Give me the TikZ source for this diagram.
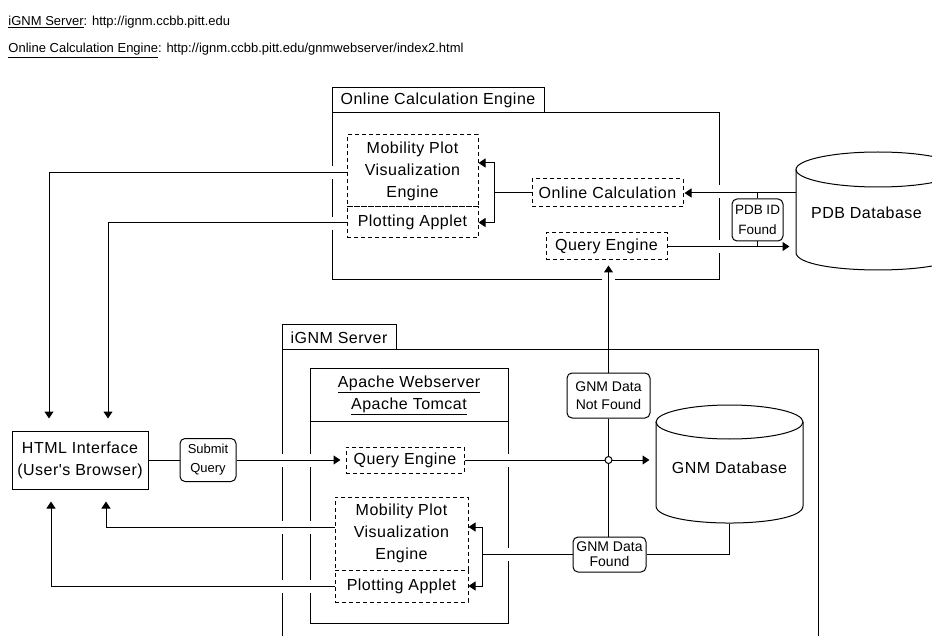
\documentclass[tikz,border=0pt]{standalone}
\usepackage{fontspec}
\setmainfont{Liberation Sans}
\newfontfamily\spacedfont[LetterSpace=3]{Liberation Sans}
\usetikzlibrary{arrows.meta,calc}
\begin{document}
\begin{tikzpicture}[x=1pt,y=-1pt, line width=1pt,
  arr/.style={-{Triangle[length=7pt,width=9pt]}},
  cbox/.style={draw, inner sep=0pt},
  txt/.style={font=\spacedfont\fontsize{16}{22}\selectfont, align=center},
  dbox/.style={draw, dash pattern=on 4pt off 3pt, inner sep=0pt, txt},
  tagbox/.style={draw, rounded corners=5pt, inner sep=0pt, align=center, fill=white, font=\fontsize{14}{18}\selectfont},
  gapmark/.style={fill=white, draw=none},
  head/.style={anchor=base west, inner sep=0pt, font=\fontsize{13}{15}\selectfont}
]
\useasboundingbox (0,0) rectangle (932,636);
\clip (0,0) rectangle (932,636);
\fill[white] (0,0) rectangle (932,636);

% header
\node[head] (h1) at (8,26) {\underline{iGNM Server}: http://ignm.ccbb.pitt.edu};
\node[head] (h2) at (8,53) {\underline{Online Calculation Engine}: http://ignm.ccbb.pitt.edu/gnmwebserver/index2.html};

% containers
\node[cbox, minimum width=387pt, minimum height=167pt] (oce) at (525.5,196.5) {};
\node[cbox, txt, minimum width=212pt, minimum height=25pt] (ocetab) at (438,100.5) {Online Calculation Engine};
\node[cbox, minimum width=536pt, minimum height=300pt] (ignm) at (550,500) {};
\node[cbox, txt, minimum width=114pt, minimum height=25pt] (ignmtab) at (339,337.5) {iGNM Server};
\node[cbox, txt, minimum width=198pt, minimum height=52pt] (apachehead) at (409,395) {\underline{Apache Webserver}\\\underline{Apache Tomcat}};
\node[cbox, minimum width=198pt, minimum height=202pt] (apache) at (409,522) {};

% gaps where connectors cross container edges
\foreach \yy in {173,224} {\fill[gapmark] (330,\yy-6.5) rectangle (334,\yy+6.5);}
\foreach \yy in {192,247} {\fill[gapmark] (717,\yy-6.5) rectangle (721,\yy+6.5);}
\fill[gapmark] (602,278) rectangle (615,282);
\foreach \yy in {460,527,586} {\fill[gapmark] (280,\yy-6.5) rectangle (284,\yy+6.5);
  \fill[gapmark] (308,\yy-6.5) rectangle (312,\yy+6.5);}
\foreach \yy in {460,554.5} {\fill[gapmark] (506,\yy-6.5) rectangle (510,\yy+6.5);}

% online calculation engine contents
\node[dbox, minimum width=131pt, minimum height=72pt] (mob1) at (412.5,171) {Mobility Plot\\Visualization\\Engine};
\node[dbox, minimum width=131pt, minimum height=31pt] (plot1) at (412.5,222.5) {Plotting Applet};
\node[dbox, minimum width=151pt, minimum height=28pt] (calc) at (607.5,193) {Online Calculation};
\node[dbox, minimum width=121pt, minimum height=27pt] (qe1) at (606.5,246.5) {Query Engine};
\node[tagbox, minimum width=51pt, minimum height=42pt, font=\fontsize{13.5}{20}\selectfont] (pdbid) at (757.5,220) {PDB ID\\Found};

% PDB cylinder
\draw[fill=white] (796,169.5) -- (796,252.5) .. controls (796,275.8) and (960,275.8) .. (960,252.5) -- (960,169.5);
\draw (878,169.5) ellipse[x radius=82, y radius=17.5];
\node[txt, minimum width=141pt, inner sep=0pt] (pdb) at (866.5,213) {PDB Database};

% GNM cylinder
\draw[fill=white] (656,422) -- (656,506) .. controls (656,528.7) and (803,528.7) .. (803,506) -- (803,422);
\draw (729.5,422) ellipse[x radius=73.5, y radius=17];
\node[txt, minimum width=147pt, minimum height=110pt, inner sep=0pt] (gnm) at (729.5,468) {GNM Database};

% iGNM server contents
\node[dbox, minimum width=118pt, minimum height=26pt] (qe2) at (405,460) {Query Engine};
\node[dbox, minimum width=133pt, minimum height=73pt] (mob2) at (401.5,533.5) {Mobility Plot\\Visualization\\Engine};
\node[dbox, minimum width=133pt, minimum height=32pt] (plot2) at (401.5,586) {Plotting Applet};
\node[tagbox, minimum width=83pt, minimum height=45pt] (notfound) at (608.5,395.5) {GNM Data\\Not Found};
\node[tagbox, minimum width=73pt, minimum height=35pt, font=\fontsize{14}{15}\selectfont] (found) at (609.5,554.5) {GNM Data\\Found};

% browser side
\node[cbox, txt, minimum width=136pt, minimum height=58pt] (html) at (80,460) {HTML Interface\\(User's Browser)};
\node[tagbox, minimum width=56pt, minimum height=43pt, font=\fontsize{13}{19}\selectfont] (submit) at (208,460) {Submit\\Query};

% connectors (top)
\draw[arr, shorten >=1pt] (calc.east -| pdb.west) -- (calc.east);
\draw[arr, shorten >=6pt] (qe1.east) -- (qe1.east -| pdb.west);
\draw (pdbid.north |- calc.east) -- (pdbid.north);
\draw (pdbid.south) -- (pdbid.south |- qe1.east);
\coordinate (j1) at ($(calc.west)+(-37,0)$);
\draw (calc.west) -- (j1);
\draw[arr] (j1) |- ($(mob1.east)+(0,-8)$);
\draw[arr] (j1) |- (plot1.east);
\draw[arr, shorten >=12pt] ($(mob1.west)+(0,2)$) -| ($(html.north)+(-31,0)$);
\draw[arr, shorten >=12pt] (plot1.west) -| ($(html.north)+(28,0)$);

% connectors (bottom)
\draw (html.east) -- (submit.west);
\draw[arr, shorten >=5pt] (submit.east) -- (qe2.west);
\draw[arr, shorten >=6pt] (qe2.east) -- (qe2.east -| gnm.west);
\draw[arr, shorten >=5pt] (notfound.north) -- (notfound.north |- qe1.south);
\draw (notfound.south) -- (notfound.south |- found.north);
\node[circle, draw, fill=white, inner sep=0pt, minimum size=7pt] (hop) at (notfound.south |- qe2.east) {};
\draw (found.east) -| (gnm.south);
\coordinate (j2) at ($(found.west)+(-90,0)$);
\draw (found.west) -- (j2);
\draw[arr] (j2) |- ($(mob2.east)+(0,-6.5)$);
\draw[arr] (j2) |- (plot2.east);
\draw[arr, shorten >=12pt] ($(mob2.west)+(0,-6.5)$) -| ($(html.south)+(26,0)$);
\draw[arr, shorten >=12pt] (plot2.west) -| ($(html.south)+(-29,0)$);
\end{tikzpicture}
\end{document}
